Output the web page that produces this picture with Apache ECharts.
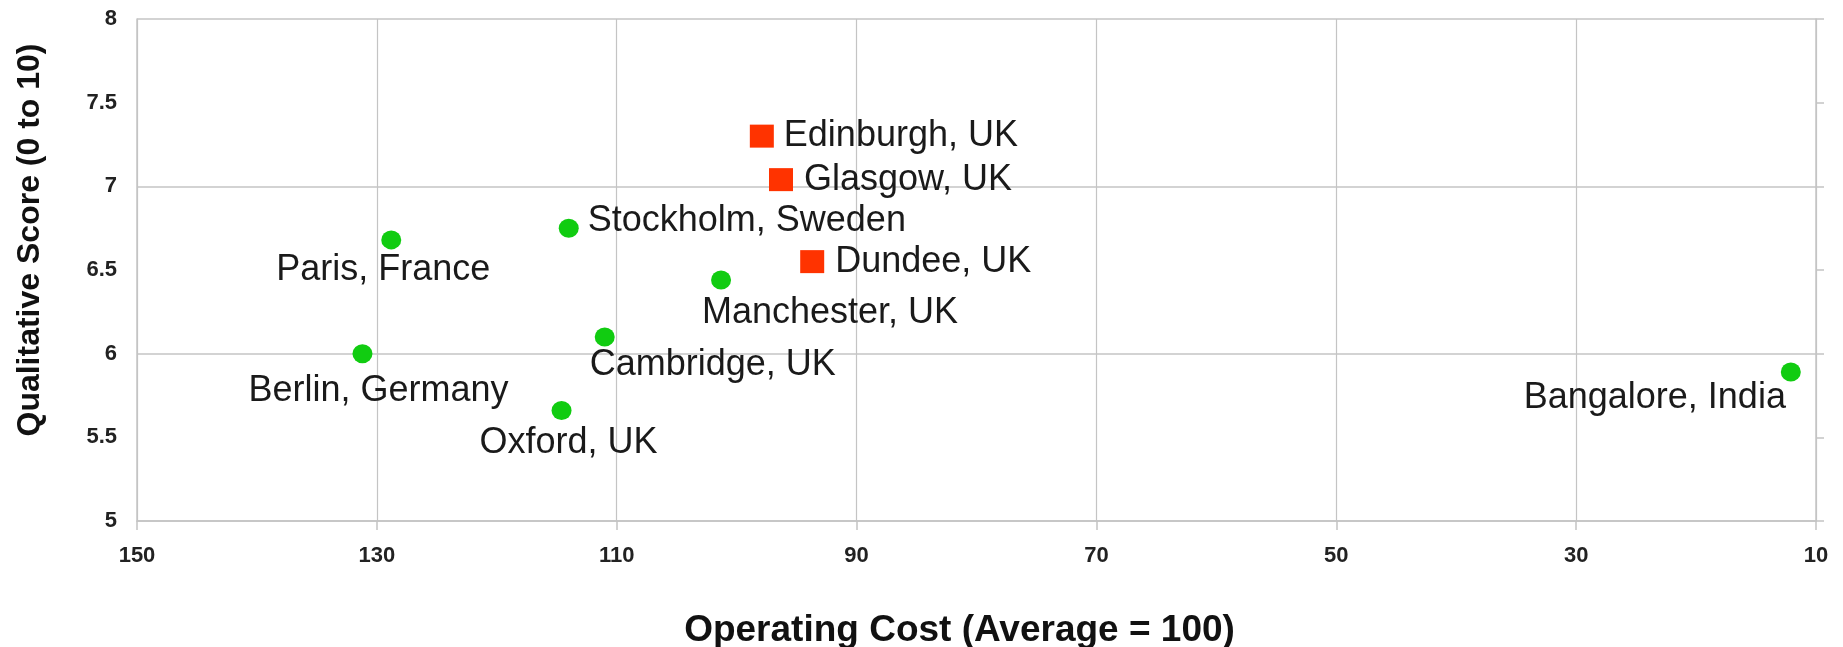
<!DOCTYPE html>
<html>
<head>
<meta charset="utf-8">
<script src="https://cdn.jsdelivr.net/npm/echarts@6/dist/echarts.min.js"></script>
<style>
  html, body { margin: 0; padding: 0; background: #fff; }
  #chart { width: 1843px; height: 647px; }
</style>
</head>
<body>
<div id="chart"></div>
<script>
// UK cities (red squares)
const ukNames = ["Edinburgh, UK", "Glasgow, UK", "Dundee, UK"];
const ukCost = [97.9, 96.3, 93.7];
const ukScore = [7.3, 7.04, 6.55];

// other cities (green dots)
const otherNames = ["Stockholm, Sweden", "Paris, France", "Manchester, UK", "Cambridge, UK",
  "Berlin, Germany", "Oxford, UK", "Bangalore, India"];
const otherCost = [114, 128.8, 101.3, 111, 131.2, 114.6, 12.1];
const otherScore = [6.75, 6.68, 6.44, 6.1, 6.0, 5.66, 5.89];

// label placement (pixel offsets from the point, align)
const ukLabelPos = [[22, 0, "left"], [23, 0, "left"], [23, 0, "left"]];
const otherLabelPos = [[19, -7, "left"], [-8, 30, "center"], [109, 33, "center"], [108, 28, "center"],
  [16, 37, "center"], [7, 33, "center"], [-136, 26, "center"]];

const font = "'Liberation Sans', Arial, sans-serif";
const gridColor = "#c4c4c4";

function build(names, xs, ys, pos) {
  return names.map(function (n, i) {
    return {
      name: n,
      value: [xs[i], ys[i]],
      label: {
        offset: [pos[i][0], pos[i][1]],
        align: pos[i][2],
      },
    };
  });
}

const labelStyle = {
  show: true,
  position: "inside",
  verticalAlign: "middle",
  formatter: "{b}",
  color: "#1a1a1a",
  fontFamily: font,
  fontSize: 36,
};

let myChart = echarts.init(document.getElementById("chart"));
let option = {
  animation: false,
  grid: {
    left: 137,
    right: 27,
    top: 19,
    bottom: 126,
    outerBoundsMode: "none",
    containLabel: false,
  },
  graphic: [
    {
      type: "text",
      x: 30,
      y: 240,
      rotation: Math.PI / 2,
      style: {
        text: "Qualitative Score (0 to 10)",
        font: "bold 32px " + font,
        fill: "#111",
        textAlign: "center",
        textVerticalAlign: "middle",
      },
    },
  ],
  xAxis: {
    type: "value",
    inverse: true,
    min: 10,
    max: 150,
    interval: 20,
    name: "Operating Cost (Average = 100)",
    nameLocation: "middle",
    nameGap: 91,
    nameTextStyle: {
      fontFamily: font,
      fontWeight: "bold",
      fontSize: 37,
      color: "#111",
      padding: [0, 34, 0, 0],
    },
    axisLine: { lineStyle: { color: gridColor, width: 1.5 } },
    axisTick: { show: true, length: 9, lineStyle: { color: gridColor, width: 1.5 } },
    axisLabel: {
      margin: 24,
      color: "#222",
      fontFamily: font,
      fontWeight: "bold",
      fontSize: 22,
    },
    splitLine: { show: true, lineStyle: { color: gridColor, width: 1.2 } },
  },
  yAxis: [
    {
      type: "value",
      min: 5,
      max: 8,
      interval: 0.5,
      axisLine: { show: true, lineStyle: { color: gridColor, width: 1.5 } },
      axisTick: { show: false },
      axisLabel: {
        margin: 20,
        color: "#222",
        fontFamily: font,
        fontWeight: "bold",
        fontSize: 22,
      },
      splitLine: {
        show: true,
        lineStyle: { color: [gridColor, "rgba(0,0,0,0)"], width: 1.5 },
      },
    },
    {
      type: "value",
      position: "right",
      min: 5,
      max: 8,
      interval: 0.5,
      axisLine: { show: true, lineStyle: { color: gridColor, width: 1.5 } },
      axisTick: { show: true, length: 8, lineStyle: { color: gridColor, width: 1.5 } },
      axisLabel: { show: false },
      splitLine: { show: false },
    },
  ],
  series: [
    {
      name: "UK",
      type: "scatter",
      symbol: "rect",
      symbolSize: [24, 23],
      itemStyle: { color: "#ff3300", opacity: 1 },
      label: labelStyle,
      data: build(ukNames, ukCost, ukScore, ukLabelPos),
    },
    {
      name: "Other",
      type: "scatter",
      symbol: "circle",
      symbolSize: [20, 19],
      itemStyle: { color: "#11cc11", opacity: 1 },
      label: labelStyle,
      data: build(otherNames, otherCost, otherScore, otherLabelPos),
    },
  ],
};
myChart.setOption(option);
</script>
</body>
</html>
